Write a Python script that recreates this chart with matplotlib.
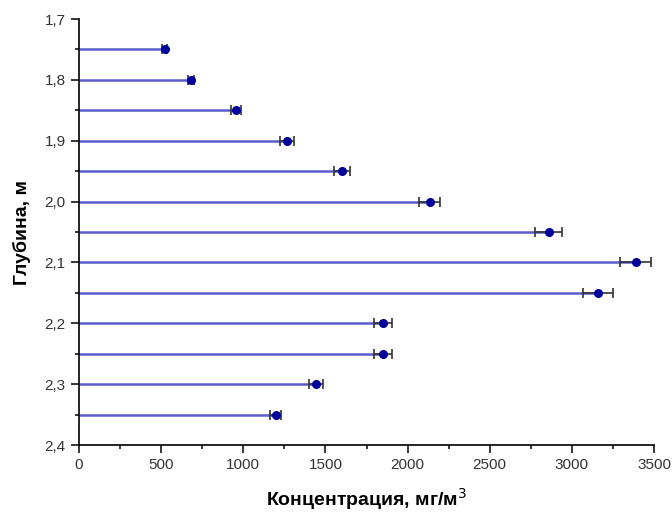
import numpy as np
import matplotlib.pyplot as plt
from matplotlib.ticker import MultipleLocator, FuncFormatter

plt.rcParams['font.family'] = ['Liberation Sans Narrow', 'Liberation Sans', 'DejaVu Sans']

# depth (m) and concentration (mg/m3)
depth = [1.75, 1.80, 1.85, 1.90, 1.95, 2.00, 2.05, 2.10, 2.15, 2.20, 2.25, 2.30, 2.35]
conc = [523, 682, 955, 1266, 1600, 2136, 2860, 3390, 3159, 1853, 1853, 1443, 1197]
err = [15, 18, 30, 40, 50, 64, 82, 94, 91, 55, 55, 43, 35]

fig = plt.figure(figsize=(6.72, 5.15), dpi=100)
ax = fig.add_axes([0.1176, 0.1359, 0.8556, 0.8272])

ax.hlines(depth, 0, conc, color="#5a5acb", linewidth=1.8, zorder=2)
ax.errorbar(conc, depth, xerr=err, fmt="o", color="#00009a", markersize=5.5,
            ecolor="#333333", elinewidth=1.2, capsize=3.5, capthick=1.2, zorder=3)

ax.set_xlim(0, 3500)
ax.set_ylim(2.4, 1.7)
ax.xaxis.set_major_locator(MultipleLocator(500))
ax.xaxis.set_minor_locator(MultipleLocator(250))
ax.yaxis.set_major_locator(MultipleLocator(0.1))
ax.yaxis.set_minor_locator(MultipleLocator(0.05))
ax.yaxis.set_major_formatter(FuncFormatter(lambda v, p: ("%.1f" % v).replace(".", ",")))

for side in ["top", "right"]:
    ax.spines[side].set_visible(False)
ax.spines["left"].set_linewidth(1.2)
ax.spines["bottom"].set_linewidth(1.2)
ax.tick_params(which="major", length=6, width=1.1, labelsize=11, labelcolor="#333333")
ax.tick_params(which="minor", length=3, width=1.1)

ax.set_xlabel("Концентрация, мг/м$^3$", fontsize=14, fontweight="bold", labelpad=10)
ax.set_ylabel("Глубина, м", fontsize=14, fontweight="bold", labelpad=10)

fig.savefig("out.png", dpi=100)
